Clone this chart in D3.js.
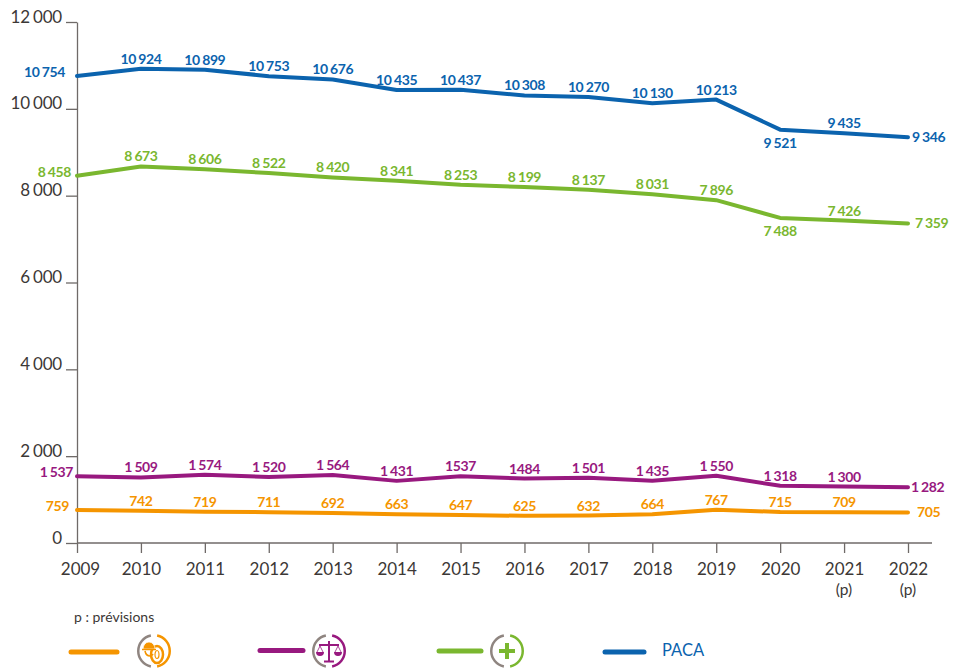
<!DOCTYPE html>
<html>
<head>
<meta charset="utf-8">
<script src="https://cdn.jsdelivr.net/npm/d3@7"></script>
<style>
body { margin: 0; background: #fff; }
text { font-family: Lato, "Open Sans", sans-serif; }
</style>
</head>
<body>
<svg></svg>
<script>
var years = [2009, 2010, 2011, 2012, 2013, 2014, 2015, 2016, 2017, 2018, 2019, 2020, 2021, 2022]
var yTicks = [0, 2000, 4000, 6000, 8000, 10000, 12000]
var yearNotes = {2021: "(p)", 2022: "(p)"}

var paca = [10754, 10924, 10899, 10753, 10676, 10435, 10437, 10308, 10270, 10130, 10213, 9521, 9435, 9346]
var plus = [8458, 8673, 8606, 8522, 8420, 8341, 8253, 8199, 8137, 8031, 7896, 7488, 7426, 7359]
var justice = [1537, 1509, 1574, 1520, 1564, 1431, 1537, 1484, 1501, 1435, 1550, 1318, 1300, 1282]
var travail = [759, 742, 719, 711, 692, 663, 647, 625, 632, 664, 767, 715, 709, 705]

// les etiquettes sans espace dans la source
var justiceLabels = ["1 537", "1 509", "1 574", "1 520", "1 564", "1 431", "1537", "1484", "1 501", "1 435", "1 550", "1 318", "1 300", "1 282"]

var blue = "#0b63ae", green = "#7ab72f", purple = "#98197f", orange = "#f59500", grey = "#8f8580"

var svg = d3.select("svg")
    .attr("width", 965)
    .attr("height", 668)

var scX = d3.scalePoint().domain(years).range([77, 908])
var scY = d3.scaleLinear().domain([0, 12000]).range([543, 22])

var fmt = d => d3.format(",")(d).replace(",", " ")

// startX / endX : bord des etiquettes de debut et de fin, placees a la main dans la source
var series = [
    {values: paca, color: blue, below: [2020], startX: 65, endX: 912},
    {values: plus, color: green, below: [2020], startX: 71, endX: 915},
    {values: justice, color: purple, labels: justiceLabels, below: [], startX: 73, endX: 911},
    {values: travail, color: orange, below: [], startX: 69, endX: 917}
]

// axes
var xAxisGroup = svg.append("g")
    .attr("transform", "translate(0, 543)")
    .call(d3.axisBottom(scX).tickSize(10).tickSizeOuter(0).tickFormat(d => d))
xAxisGroup.select(".domain").attr("d", "M77,0H932")

var yAxisGroup = svg.append("g")
    .attr("transform", "translate(77, 0)")
    .call(d3.axisLeft(scY).tickValues(yTicks).tickSize(11).tickSizeOuter(0).tickFormat(fmt))

svg.selectAll(".domain, .tick line").attr("stroke", "#6f6a68").attr("stroke-width", 1.3)
xAxisGroup.selectAll("text")
    .attr("y", 20)
    .attr("x", d => d == 2009 ? 3 : 0)
    .attr("font-size", 17)
    .attr("fill", "#3c3836")
    .style("font-family", "Lato")
yAxisGroup.selectAll("text")
    .attr("x", -15)
    .attr("dy", "0")
    .attr("font-size", 17)
    .attr("letter-spacing", "-0.2")
    .attr("word-spacing", "-1")
    .attr("fill", "#3c3836")
    .style("font-family", "Lato")

svg.append("g").selectAll("text")
    .data(years.filter(y => yearNotes[y])).enter().append("text")
    .attr("x", d => scX(d))
    .attr("y", 595)
    .attr("text-anchor", "middle")
    .attr("font-size", 15.5)
    .attr("fill", "#3c3836")
    .text(d => yearNotes[d])

// courbes + etiquettes
var line = d3.line().x((d, i) => scX(years[i])).y(d => scY(d))

series.forEach(s => {
    svg.append("path")
        .attr("d", line(s.values))
        .attr("fill", "none")
        .attr("stroke", s.color)
        .attr("stroke-width", 4)
        .attr("stroke-linecap", "round")
        .attr("stroke-linejoin", "round")

    svg.append("g").selectAll("text")
        .data(s.values).enter().append("text")
        .attr("x", (d, i) => {
            if (i == 0) return s.startX
            if (i == years.length - 1) return s.endX
            return scX(years[i])
        })
        .attr("y", (d, i) => {
            if (i == 0) return scY(d) + 1
            if (i == years.length - 1) return scY(d) + 5
            if (s.below.includes(years[i])) return scY(d) + 18
            return scY(d) - 5
        })
        .attr("text-anchor", (d, i) => i == 0 ? "end" : i == years.length - 1 ? "start" : "middle")
        .attr("font-size", 14)
        .attr("font-weight", 700)
        .attr("letter-spacing", "-0.4")
        .attr("word-spacing", "-0.6")
        .attr("fill", s.color)
        .text((d, i) => s.labels ? s.labels[i] : fmt(d))
})

svg.append("text")
    .attr("x", 74).attr("y", 622)
    .attr("font-size", 14)
    .attr("fill", "#3c3836")
    .text("p : prévisions")

// legende : trait + pictogramme
var legend = [
    {color: orange, x1: 71, x2: 117, y: 652, icon: 154},
    {color: purple, x1: 260, x2: 303, y: 650.5, icon: 329},
    {color: green, x1: 439, x2: 481, y: 651, icon: 507},
    {color: blue, x1: 605, x2: 644, y: 652}
]

legend.forEach(l => {
    svg.append("line")
        .attr("x1", l.x1).attr("x2", l.x2)
        .attr("y1", l.y).attr("y2", l.y)
        .attr("stroke", l.color)
        .attr("stroke-width", 5)
        .attr("stroke-linecap", "round")
    if (!l.icon) return

    var icon = svg.append("g")
        .attr("transform", `translate(${l.icon}, 651)`)
    var arc = d3.arc().innerRadius(14.5).outerRadius(17)
    icon.append("path")
        .attr("d", arc({startAngle: -Math.PI + 0.2, endAngle: -0.2}))
        .attr("fill", grey)
    icon.append("path")
        .attr("d", arc({startAngle: 0.2, endAngle: Math.PI - 0.2}))
        .attr("fill", l.color)
})

// casque + pneu
var tyre = svg.append("g").attr("transform", "translate(154, 651)").attr("stroke", orange).attr("fill", "none")
tyre.append("ellipse").attr("cx", 3).attr("cy", 3.5).attr("rx", 6).attr("ry", 8.5).attr("stroke-width", 2.5)
tyre.append("ellipse").attr("cx", 3).attr("cy", 3.5).attr("rx", 2).attr("ry", 4).attr("stroke-width", 1.2)
tyre.append("path").attr("d", "M-11,-2A6,7 0 0 1 1,-2Z").attr("fill", orange).attr("stroke", "#fff").attr("stroke-width", 0.7)
tyre.append("path").attr("d", "M-12,-1.5H2M-9,0Q-8,5 -4,5Q-2,5 -1,3").attr("stroke-width", 1.6)

// balance
var scale = svg.append("g").attr("transform", "translate(329, 651)").attr("stroke", purple).attr("fill", "none")
scale.append("path").attr("d", "M0,-10V10M-5,10.5H5M-10,-6H10").attr("stroke-width", 2)
scale.append("path").attr("d", "M-9,-5L-12,1M-9,-5L-6,1M9,-5L12,1M9,-5L6,1").attr("stroke-width", 0.8)
scale.append("path").attr("d", "M-13,1H-5A4,4 0 0 1 -13,1ZM5,1H13A4,4 0 0 1 5,1Z").attr("fill", purple).attr("stroke", "none")

// plus
svg.append("path")
    .attr("transform", "translate(507, 651)")
    .attr("d", "M-8,0H8M0,-8V8")
    .attr("stroke", green)
    .attr("stroke-width", 4)
    .attr("fill", "none")

svg.append("text")
    .attr("x", 662).attr("y", 656)
    .attr("font-size", 16.5)
    .attr("fill", blue)
    .text("PACA")
</script>
</body>
</html>
